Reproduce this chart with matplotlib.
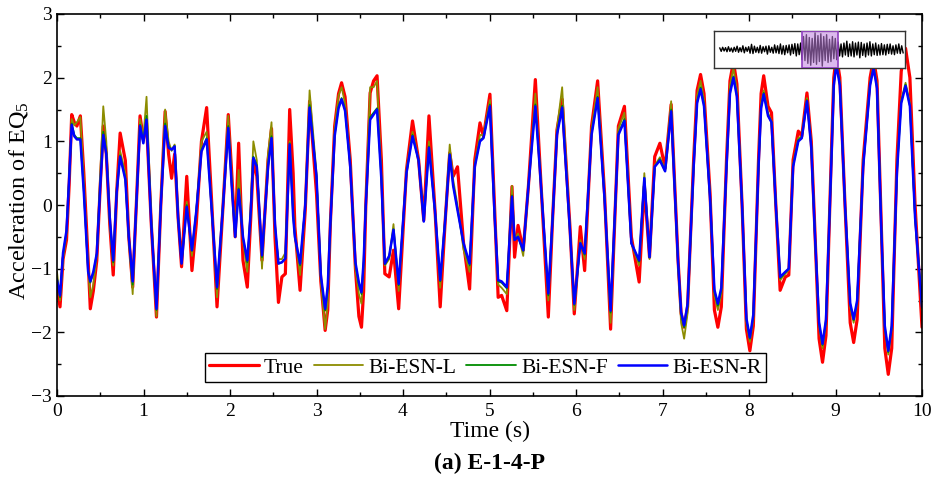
import numpy as np
import matplotlib
matplotlib.use("Agg")
import matplotlib.pyplot as plt
from matplotlib.ticker import MultipleLocator
from matplotlib.patches import Rectangle

# ---------------- data ----------------
time_s = [
    0.00, 0.035, 0.07, 0.11, 0.14, 0.17, 0.20, 0.23, 0.27, 0.31,
    0.36, 0.385, 0.42, 0.46, 0.50, 0.535, 0.57, 0.61, 0.65, 0.69,
    0.73, 0.79, 0.83, 0.875, 0.92, 0.96, 0.998, 1.035, 1.09, 1.15,
    1.20, 1.25, 1.29, 1.325, 1.36, 1.40, 1.44, 1.50, 1.56, 1.61,
    1.67, 1.73, 1.79, 1.85, 1.92, 1.98, 2.02, 2.06, 2.10, 2.15,
    2.20, 2.24, 2.27, 2.31, 2.37, 2.44, 2.48, 2.52, 2.56, 2.60,
    2.64, 2.69, 2.73, 2.75, 2.81, 2.87, 2.92, 3.00, 3.05, 3.10,
    3.13, 3.16, 3.21, 3.255, 3.29, 3.33, 3.39, 3.45, 3.49, 3.52,
    3.545, 3.57, 3.62, 3.66, 3.70, 3.75, 3.79, 3.84, 3.89, 3.95,
    4.04, 4.11, 4.18, 4.24, 4.30, 4.37, 4.43, 4.49, 4.54, 4.58,
    4.63, 4.70, 4.77, 4.83, 4.89, 4.93, 5.005, 5.06, 5.10, 5.14,
    5.20, 5.26, 5.29, 5.33, 5.39, 5.45, 5.53, 5.58, 5.68, 5.73,
    5.78, 5.84, 5.93, 5.98, 6.05, 6.10, 6.18, 6.25, 6.33, 6.40,
    6.49, 6.56, 6.64, 6.73, 6.79, 6.85, 6.91, 6.97, 7.03, 7.10,
    7.18, 7.215, 7.25, 7.29, 7.36, 7.40, 7.44, 7.48, 7.55, 7.60,
    7.64, 7.68, 7.74, 7.78, 7.82, 7.86, 7.92, 7.97, 8.01, 8.05,
    8.11, 8.14, 8.17, 8.22, 8.26, 8.31, 8.36, 8.42, 8.46, 8.51,
    8.57, 8.61, 8.67, 8.72, 8.76, 8.81, 8.85, 8.89, 8.95, 8.98,
    9.01, 9.05, 9.11, 9.17, 9.21, 9.25, 9.32, 9.40, 9.44, 9.48,
    9.53, 9.57, 9.61, 9.65, 9.71, 9.76, 9.81, 9.86, 9.92, 10.0,
]

true_vals = [
    -1.30, -1.60, -0.85, -0.55, 0.30, 1.42, 1.30, 1.24, 1.40, 0.50,
    -0.87, -1.63, -1.35, -0.87, 0.30, 1.24, 0.80, -0.30, -1.10, 0.20,
    1.13, 0.70, -0.50, -1.29, 0.10, 1.40, 1.03, 1.29, -0.30, -1.76,
    0.00, 1.47, 0.80, 0.42, 0.80, -0.20, -0.97, 0.45, -1.03, -0.30,
    1.00, 1.53, 0.00, -1.60, 0.00, 1.42, 0.50, -0.50, 0.97, -0.87,
    -1.29, -0.20, 0.71, 0.45, -0.87, 0.71, 1.20, -0.50, -1.53, -1.13,
    -1.08, 1.50, 0.50, -0.34, -1.34, -0.08, 1.63, 0.18, -1.20, -1.97,
    -1.65, -0.30, 1.24, 1.75, 1.92, 1.70, 0.71, -1.00, -1.75, -1.92,
    -1.35, 0.00, 1.76, 1.95, 2.03, 0.71, -1.08, -1.13, -0.71, -1.63,
    0.55, 1.32, 0.71, -0.24, 1.40, -0.08, -1.60, -0.20, 0.82, 0.45,
    0.60, -0.60, -1.32, 0.71, 1.29, 1.08, 1.74, -0.08, -1.45, -1.42,
    -1.66, 0.29, -0.82, -0.32, -0.71, 0.30, 1.97, 0.71, -1.76, -0.20,
    1.18, 1.66, -0.34, -1.71, -0.34, -1.03, 1.24, 1.95, 0.18, -1.95,
    1.24, 1.55, -0.50, -1.21, 0.29, -0.82, 0.76, 0.97, 0.58, 1.58,
    -0.87, -1.70, -1.92, -1.60, 0.71, 1.80, 2.05, 1.75, 0.18, -1.65,
    -1.92, -1.60, 0.71, 1.95, 2.25, 1.90, 0.00, -1.95, -2.29, -1.90,
    0.71, 1.75, 2.03, 1.55, 1.45, 0.00, -1.34, -1.13, -1.10, 0.71,
    1.16, 1.08, 1.76, 1.00, -0.34, -2.10, -2.47, -2.05, 0.71, 2.00,
    2.35, 2.00, 0.00, -1.85, -2.16, -1.80, 0.71, 2.00, 2.30, 1.95,
    -0.34, -2.25, -2.66, -2.25, 0.71, 2.10, 2.46, 2.00, 0.00, -1.92,
]

bi_esn_l = [
    -1.05, -1.50, -0.85, -0.45, 0.40, 1.35, 1.25, 1.30, 1.38, 0.40,
    -1.00, -1.45, -1.25, -0.80, 0.50, 1.55, 1.00, -0.30, -0.95, 0.25,
    0.85, 0.50, -0.55, -1.40, 0.10, 1.35, 1.05, 1.70, -0.20, -1.75,
    0.05, 1.50, 1.00, 0.85, 0.95, -0.15, -0.90, 0.05, -0.80, -0.10,
    1.00, 1.15, -0.05, -1.45, 0.05, 1.40, 0.40, -0.50, 0.55, -0.55,
    -1.05, 0.00, 1.00, 0.70, -1.00, 0.80, 1.30, -0.40, -0.85, -0.85,
    -0.75, 1.00, -0.10, -0.45, -1.10, 0.00, 1.80, 0.50, -1.20, -1.95,
    -1.55, -0.30, 1.20, 1.72, 1.85, 1.60, 0.65, -1.00, -1.40, -1.55,
    -1.00, 0.05, 1.85, 1.85, 1.95, 0.50, -0.95, -0.85, -0.30, -1.35,
    0.55, 1.15, 0.72, -0.20, 1.00, -0.10, -1.30, -0.15, 0.95, 0.40,
    0.00, -0.70, -1.05, 0.65, 1.10, 1.10, 1.65, -0.15, -1.25, -1.30,
    -1.40, 0.30, -0.55, -0.45, -0.80, 0.30, 1.75, 0.65, -1.50, -0.20,
    1.20, 1.85, -0.40, -1.65, -0.55, -0.85, 1.20, 1.85, 0.15, -1.85,
    1.20, 1.45, -0.60, -0.95, 0.50, -0.85, 0.62, 0.75, 0.55, 1.63,
    -0.95, -1.85, -2.10, -1.70, 0.65, 1.72, 1.95, 1.65, 0.15, -1.42,
    -1.65, -1.40, 0.65, 1.88, 2.15, 1.80, 0.00, -1.85, -2.15, -1.80,
    0.65, 1.60, 1.80, 1.45, 1.32, 0.00, -1.18, -1.08, -1.02, 0.65,
    1.05, 1.08, 1.68, 0.95, -0.40, -1.90, -2.25, -1.85, 0.65, 1.92,
    2.25, 1.92, 0.00, -1.60, -1.85, -1.55, 0.65, 1.92, 2.20, 1.88,
    -0.40, -1.95, -2.35, -1.95, 0.55, 1.65, 1.92, 1.60, -0.15, -1.65,
]

bi_esn_f = [
    -1.15, -1.45, -0.78, -0.42, 0.40, 1.28, 1.10, 1.05, 1.05, 0.22,
    -1.03, -1.22, -1.07, -0.77, 0.32, 1.15, 0.82, -0.22, -0.90, 0.20,
    0.78, 0.42, -0.50, -1.25, 0.10, 1.26, 0.98, 1.40, -0.28, -1.65,
    0.00, 1.28, 0.92, 0.87, 0.93, -0.20, -0.92, 0.00, -0.72, -0.10,
    0.86, 1.05, -0.10, -1.32, 0.00, 1.24, 0.32, -0.50, 0.26, -0.52,
    -0.90, -0.10, 0.76, 0.62, -0.82, 0.62, 1.08, -0.32, -0.92, -0.90,
    -0.84, 0.97, -0.16, -0.50, -0.95, 0.00, 1.57, 0.46, -1.12, -1.66,
    -1.30, -0.30, 1.10, 1.55, 1.68, 1.50, 0.62, -0.92, -1.25, -1.40,
    -0.90, 0.00, 1.38, 1.45, 1.52, 0.42, -0.93, -0.82, -0.38, -1.26,
    0.50, 1.10, 0.70, -0.25, 0.92, -0.10, -1.20, -0.20, 0.80, 0.32,
    -0.06, -0.62, -0.95, 0.62, 1.02, 1.06, 1.58, -0.20, -1.20, -1.22,
    -1.31, 0.15, -0.55, -0.50, -0.72, 0.30, 1.58, 0.62, -1.42, -0.20,
    1.12, 1.56, -0.40, -1.57, -0.60, -0.78, 1.12, 1.70, 0.10, -1.69,
    1.12, 1.35, -0.60, -0.89, 0.43, -0.82, 0.60, 0.72, 0.53, 1.50,
    -0.90, -1.70, -1.92, -1.58, 0.62, 1.62, 1.85, 1.58, 0.10, -1.36,
    -1.58, -1.34, 0.62, 1.78, 2.02, 1.72, 0.00, -1.80, -2.10, -1.75,
    0.62, 1.55, 1.76, 1.42, 1.30, 0.00, -1.15, -1.06, -1.00, 0.62,
    1.02, 1.06, 1.65, 0.92, -0.40, -1.86, -2.20, -1.82, 0.62, 1.90,
    2.22, 1.90, 0.00, -1.56, -1.81, -1.52, 0.62, 1.90, 2.17, 1.85,
    -0.40, -1.92, -2.31, -1.92, 0.52, 1.62, 1.89, 1.56, -0.20, -1.62,
]

bi_esn_r = [
    -1.18, -1.42, -0.75, -0.40, 0.40, 1.26, 1.08, 1.03, 1.03, 0.20,
    -1.05, -1.20, -1.05, -0.76, 0.30, 1.10, 0.80, -0.20, -0.87, 0.20,
    0.76, 0.40, -0.50, -1.20, 0.10, 1.24, 0.97, 1.34, -0.30, -1.63,
    0.00, 1.24, 0.90, 0.87, 0.92, -0.20, -0.92, -0.03, -0.71, -0.10,
    0.84, 1.03, -0.10, -1.29, 0.00, 1.21, 0.30, -0.50, 0.24, -0.50,
    -0.87, -0.10, 0.74, 0.60, -0.79, 0.60, 1.05, -0.30, -0.92, -0.90,
    -0.84, 0.95, -0.18, -0.50, -0.92, 0.00, 1.53, 0.45, -1.10, -1.63,
    -1.28, -0.30, 1.08, 1.52, 1.66, 1.48, 0.60, -0.90, -1.22, -1.37,
    -0.88, 0.00, 1.34, 1.42, 1.50, 0.40, -0.92, -0.80, -0.39, -1.24,
    0.50, 1.08, 0.70, -0.26, 0.90, -0.10, -1.18, -0.20, 0.79, 0.30,
    -0.08, -0.60, -0.92, 0.60, 1.00, 1.05, 1.55, -0.20, -1.18, -1.20,
    -1.29, 0.13, -0.55, -0.50, -0.71, 0.30, 1.55, 0.60, -1.39, -0.20,
    1.10, 1.53, -0.40, -1.55, -0.60, -0.76, 1.10, 1.68, 0.10, -1.66,
    1.10, 1.32, -0.60, -0.87, 0.42, -0.82, 0.60, 0.70, 0.53, 1.47,
    -0.90, -1.68, -1.89, -1.55, 0.60, 1.60, 1.82, 1.55, 0.10, -1.33,
    -1.55, -1.30, 0.60, 1.75, 2.00, 1.70, 0.00, -1.78, -2.08, -1.72,
    0.60, 1.52, 1.74, 1.40, 1.30, 0.00, -1.13, -1.05, -1.00, 0.60,
    1.00, 1.05, 1.63, 0.90, -0.40, -1.84, -2.18, -1.80, 0.60, 1.88,
    2.20, 1.88, 0.00, -1.54, -1.79, -1.50, 0.60, 1.88, 2.15, 1.83,
    -0.40, -1.90, -2.29, -1.90, 0.50, 1.60, 1.87, 1.55, -0.20, -1.60,
]

series_names = ["True", "Bi-ESN-L", "Bi-ESN-F", "Bi-ESN-R"]

# inset: full ground-motion record (sample index, amplitude)
inset_record = [
    0.08, -0.10, 0.12, -0.08, 0.10, -0.12, 0.15, -0.10, 0.08, -0.14,
    0.12, -0.10, 0.18, -0.15, 0.10, -0.12, 0.20, -0.18, 0.12, -0.10,
    0.15, -0.20, 0.28, -0.22, 0.18, -0.15, 0.12, -0.18, 0.22, -0.20,
    0.15, -0.12, 0.18, -0.25, 0.20, -0.15, 0.12, -0.20, 0.25, -0.18,
    0.20, -0.22, 0.30, -0.25, 0.20, -0.28, 0.22, -0.18, 0.25, -0.30,
    0.28, -0.22, 0.32, -0.35, 0.30, -0.28, 0.35,
    -0.55, 0.70, -0.60, 0.80, -0.75, 0.65, -0.85, 0.60, -0.70, 0.90,
    -0.80, 0.75, -0.65, 0.85, -0.90, 0.70, -0.60, 0.80, -0.70, 0.55,
    -0.65, 0.70, -0.50, 0.60, -0.55,
    0.40, -0.35, 0.30, -0.40, 0.35, -0.30, 0.45, -0.38, 0.30, -0.35,
    0.42, -0.40, 0.35, -0.30, 0.40, -0.45, 0.38, -0.32, 0.30, -0.40,
    0.35, -0.30, 0.42, -0.35, 0.30, -0.28, 0.35, -0.32, 0.25, -0.30,
    0.32, -0.28, 0.25, -0.30, 0.28, -0.22, 0.30, -0.25, 0.20, -0.28,
    0.25, -0.20, 0.30, -0.22, 0.20, -0.18,
]
inset_window = [56.9, 82.0]   # highlighted sample range

# ---------------- style ----------------
plt.rcParams["font.family"] = ["Liberation Serif", "DejaVu Serif"]
plt.rcParams["mathtext.fontset"] = "custom"
plt.rcParams["mathtext.rm"] = "Liberation Serif"
plt.rcParams["mathtext.it"] = "Liberation Serif:italic"

colors = ["#FF0000", "#8C8C00", "#008C00", "#0000FF"]
widths = [2.3, 1.3, 1.3, 1.8]

fig = plt.figure(figsize=(9.36, 4.80), dpi=100)
ax = fig.add_axes([57/936, 1-396/480, 865/936, 382/480])

for vals, name, c, lw in zip([true_vals, bi_esn_l, bi_esn_f, bi_esn_r],
                             series_names, colors, widths):
    ax.plot(time_s, vals, color=c, lw=lw, label=name,
            solid_joinstyle="round", solid_capstyle="round")

ax.set_xlim(0, 10)
ax.set_ylim(-3, 3)
ax.xaxis.set_major_locator(MultipleLocator(1))
ax.xaxis.set_minor_locator(MultipleLocator(0.5))
ax.yaxis.set_major_locator(MultipleLocator(1))
ax.yaxis.set_minor_locator(MultipleLocator(0.5))
ax.tick_params(which="both", direction="in", top=True, right=True,
               labelsize=14, width=1.0)
ax.tick_params(axis="x", pad=5)
ax.tick_params(axis="y", pad=3.5)
ax.tick_params(which="major", length=5)
ax.tick_params(which="minor", length=3)
for sp in ax.spines.values():
    sp.set_linewidth(1.2)

ax.set_xlabel("Time (s)", fontsize=17, labelpad=1)
ax.set_ylabel("Acceleration of EQ$_\\mathrm{5}$", fontsize=17.5)
ax.yaxis.set_label_coords(-0.031, 0.51)

leg = ax.legend(loc="lower left", bbox_to_anchor=(0.171, 0.037), ncol=4,
                fontsize=15.5, frameon=True, fancybox=False, framealpha=1,
                edgecolor="black", handlelength=2.3, handletextpad=0.25,
                columnspacing=0.45, borderpad=0.2, borderaxespad=0.0)
leg.get_frame().set_linewidth(1.0)

fig.text(489.5/936, 1-463/480, "(a) E-1-4-P", ha="center", va="center",
         fontsize=17, fontweight="bold")

# ---------------- inset ----------------
ins = fig.add_axes([714/936, 1-68/480, 191/936, 37/480])
ins.set_facecolor("white")
n = len(inset_record)
ins.plot(range(n), inset_record, color="black", lw=1.0, zorder=2)
ins.set_xlim(-4, n + 0.3)
ins.set_ylim(-1, 1)
ins.axvspan(inset_window[0], inset_window[1], facecolor="#C080E0",
            alpha=0.55, edgecolor="none", zorder=3)
ins.add_patch(Rectangle((inset_window[0], -1), inset_window[1]-inset_window[0], 2,
                        fill=False, edgecolor="#9040C0", lw=1.2, zorder=4))
ins.set_xticks([])
ins.set_yticks([])
for sp in ins.spines.values():
    sp.set_linewidth(1.0)
    sp.set_color("#333333")

fig.savefig("out.png", dpi=100)
